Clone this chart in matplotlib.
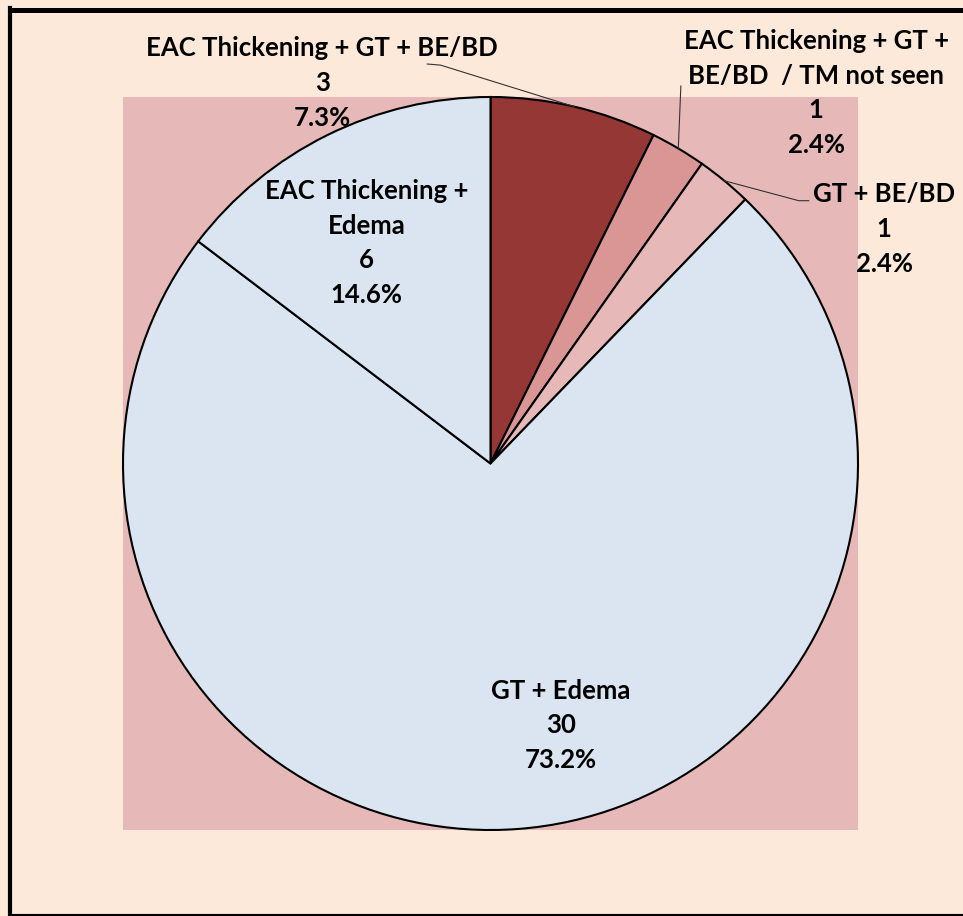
import numpy as np
import matplotlib.pyplot as plt
from matplotlib.lines import Line2D

# data
labels = ['EAC Thickening + GT + BE/BD',
          'EAC Thickening + GT +\nBE/BD  / TM not seen',
          'GT + BE/BD',
          'GT + Edema',
          'EAC Thickening +\nEdema']
counts = [3, 1, 1, 30, 6]
colors = ['#953735', '#D99694', '#E6B9B8', '#DBE5F1', '#DBE5F1']

W, H = 963, 916
fig = plt.figure(figsize=(W / 100, H / 100), dpi=100)
fig.patch.set_facecolor('#FDE9D9')

# plot area (pink box) in pixel coords
l, t, r, b = 123, 97, 858, 830
ax = fig.add_axes([l / W, 1 - b / H, (r - l) / W, (b - t) / H])

wedges, _ = ax.pie(counts, colors=colors, startangle=90, counterclock=False,
                   wedgeprops=dict(edgecolor='black', linewidth=1.5))
ax.set_xlim(-1.0, 1.0)
ax.set_ylim(-1.0, 1.0)
ax.set_aspect('auto')
ax.set_frame_on(True)
ax.set_facecolor('#E6B9B8')
for s in ax.spines.values():
    s.set_visible(False)
ax.set_xticks([])
ax.set_yticks([])

total = sum(counts)
txt = [f'{lab}\n{c}\n{c / total * 100:.1f}%' for lab, c in zip(labels, counts)]

# label centres (data units of pie)
pos = [(-0.458, 1.038), (0.886, 1.011), (1.071, 0.640), (0.191, -0.714), (-0.338, 0.602)]
font = dict(family=['Lato', 'DejaVu Sans'], fontweight='bold', fontsize=18.5)
for s, (x, y) in zip(txt, pos):
    ax.text(x, y, s, ha='center', va='center', linespacing=1.53, clip_on=False, **font)


def edge_point(w):
    a = np.deg2rad((w.theta1 + w.theta2) / 2)
    return np.cos(a), np.sin(a)


# leader lines
ex, ey = edge_point(wedges[0])
ax.plot([-0.172, -0.136, ex], [1.090, 1.087, ey], color='#333333', lw=0.8, clip_on=False)
ex, ey = edge_point(wedges[1])
ax.plot([0.518, ex], [1.030, ey], color='#333333', lw=0.8, clip_on=False)
ex, ey = edge_point(wedges[2])
ax.plot([0.866, 0.839, ex], [0.717, 0.717, ey], color='#333333', lw=0.8, clip_on=False)

# outer border (right side cut off)
fig.add_artist(Line2D([10 / W, 1.0], [1 - 9.5 / H, 1 - 9.5 / H], color='black', lw=3.6))
fig.add_artist(Line2D([10 / W, 10 / W], [1 - 8 / H, 1 - 914.5 / H], color='black', lw=3.0))
fig.add_artist(Line2D([10 / W, 1.0], [1 - 914.5 / H, 1 - 914.5 / H], color='black', lw=1.5))

fig.savefig('out.png', dpi=100, facecolor=fig.get_facecolor())
